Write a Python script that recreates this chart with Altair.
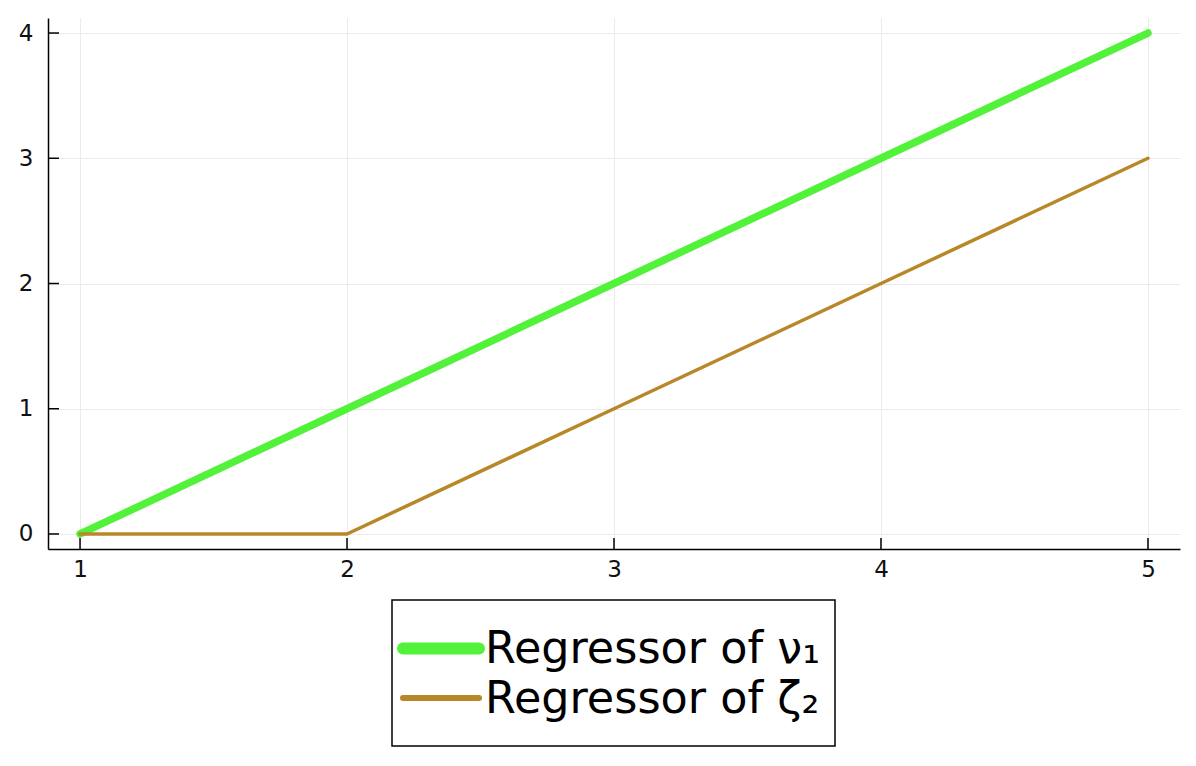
import altair as alt
import pandas as pd

x_vals = [1, 2, 3, 4, 5]
nu_vals = [0, 1, 2, 3, 4]
zeta_vals = [0, 0, 1, 2, 3]
series_names = ["Regressor of ν₁", "Regressor of ζ₂"]
series_colors = ["#53f23a", "#b88727"]
series_widths = [7.5, 3.5]
legend_widths = [12, 6]
x_ticks = [1, 2, 3, 4, 5]
y_ticks = [0, 1, 2, 3, 4]

rows = []
for xv, yv in zip(x_vals, nu_vals):
    rows.append({"x": xv, "y": yv, "series": series_names[0]})
for xv, yv in zip(x_vals, zeta_vals):
    rows.append({"x": xv, "y": yv, "series": series_names[1]})
df = pd.DataFrame(rows)

W, H = 1132, 531
xscale = alt.Scale(domain=[0.88, 5.12], nice=False, zero=False)
yscale = alt.Scale(domain=[-0.12, 4.12], nice=False, zero=False)
cscale = alt.Scale(domain=series_names, range=series_colors)

axis_style = dict(labelFontSize=23, labelFont="DejaVu Sans", labelColor="#111111",
                  domainColor="black", domainWidth=1.5, gridColor="#ebebeb",
                  gridWidth=1, tickSize=0)

lines = alt.Chart(df).mark_line(strokeCap="round", strokeJoin="round").encode(
    x=alt.X("x:Q", scale=xscale, title=None,
            axis=alt.Axis(values=x_ticks, format="d", labelPadding=9, **axis_style)),
    y=alt.Y("y:Q", scale=yscale, title=None,
            axis=alt.Axis(values=y_ticks, format="d", labelPadding=15, **axis_style)),
    color=alt.Color("series:N", scale=cscale, legend=None),
    strokeWidth=alt.StrokeWidth("series:N", scale=alt.Scale(domain=series_names, range=series_widths),
                                legend=None),
)

xt = pd.DataFrame({"v": x_ticks})
yt = pd.DataFrame({"v": y_ticks})
xtick_rules = alt.Chart(xt).mark_rule(color="black", strokeWidth=1.5).encode(
    x=alt.X("v:Q", scale=xscale), y=alt.value(H), y2=alt.value(H - 11))
ytick_rules = alt.Chart(yt).mark_rule(color="black", strokeWidth=1.5).encode(
    y=alt.Y("v:Q", scale=yscale), x=alt.value(0), x2=alt.value(11))

# legend (drawn below the plot, inside a framed box)
leg_box = alt.Chart(pd.DataFrame({"k": [0]})).mark_rect(
    fill="white", stroke="black", strokeWidth=1.5).encode(
    x=alt.value(344), x2=alt.value(787), y=alt.value(582), y2=alt.value(728))

legend_layers = [leg_box]
for i, name in enumerate(series_names):
    ldf = pd.DataFrame({"series": [name]})
    sym = alt.Chart(ldf).mark_rule(strokeCap="round").encode(
        x=alt.value(355), x2=alt.value(431),
        y=alt.value(630.5 + 49.5 * i),
        color=alt.Color("series:N", scale=cscale, legend=None),
        strokeWidth=alt.value(legend_widths[i]),
    )
    txt = alt.Chart(ldf).mark_text(
        align="left", baseline="alphabetic", fontSize=44.5, font="DejaVu Sans",
        color="black").encode(
        x=alt.value(437), y=alt.value(645 + 50 * i), text=alt.Text("series:N"))
    legend_layers += [sym, txt]

chart = alt.layer(lines, xtick_rules, ytick_rules, *legend_layers).properties(
    width=W, height=H,
    autosize=alt.AutoSizeParams(type="none"),
    padding={"left": 40, "top": 10, "right": 8, "bottom": 205},
).configure_view(stroke=None)

chart.save("out.html", embed_options={"renderer": "svg", "actions": False})
